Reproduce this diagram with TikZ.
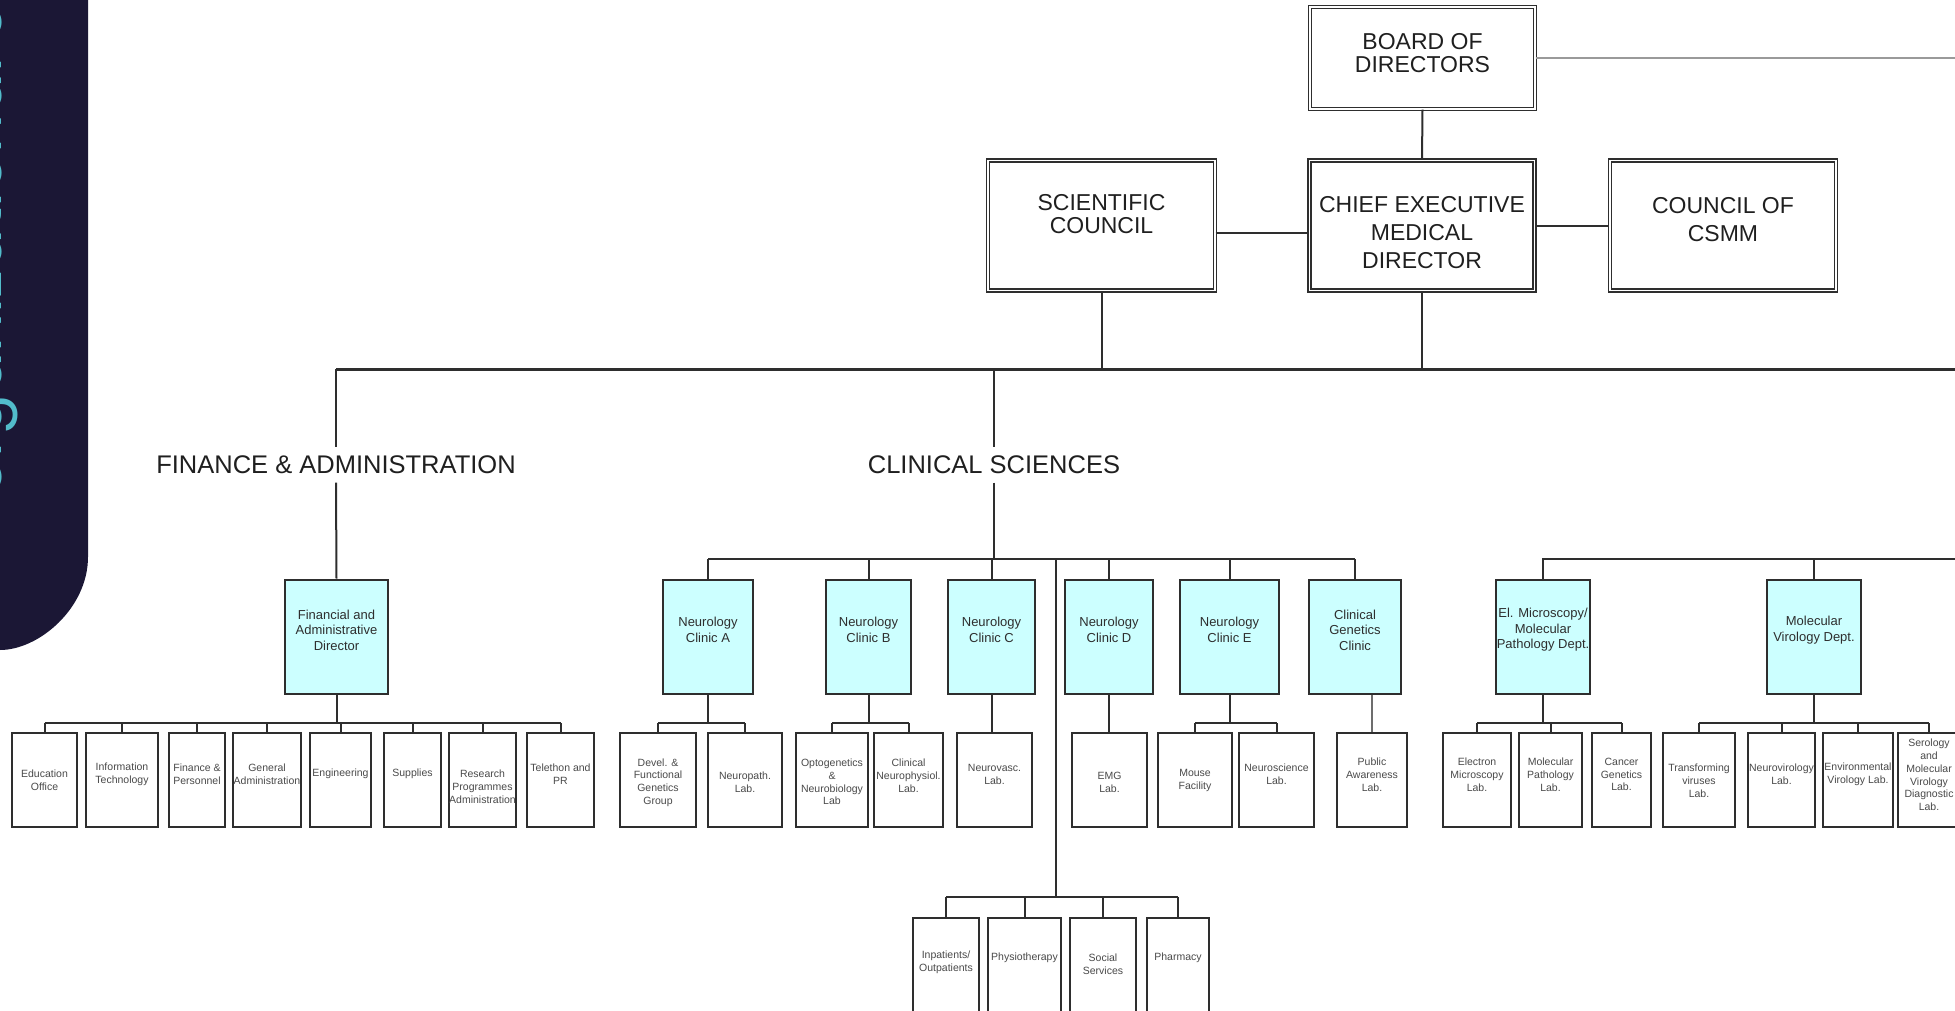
\documentclass[tikz,border=0pt]{standalone}
\usepackage{fontspec}
\setmainfont{Liberation Sans}
\newfontfamily\panelfont{Poppins}
\definecolor{panel}{HTML}{1B1735}
\definecolor{tealtxt}{HTML}{52BCCB}
\definecolor{ink}{HTML}{2E2E2E}
\definecolor{cyanfill}{HTML}{CCFFFF}
\definecolor{leafink}{HTML}{4A4A4A}
\definecolor{greyline}{HTML}{9A9A9A}
\newcommand\leafnode[5]{%
  \node[leafbox, minimum width=#3pt] (#1) at (#2,780) {};
  \node[leaftext] (#1t) at (#2,#4) {#5};}
\newcommand\cyannode[4]{%
  \node[cyanbox, minimum width=#3pt] (#1) at (#2,636.5) {};
  \node[cyantext] (#1t) at (#2,630) {#4};}
\newcommand\botnode[5]{%
  \node[leafbox, minimum width=#3pt, minimum height=112pt] (#1) at (#2,974) {};
  \node[leaftext] (#1t) at (#2,#4) {#5};}
\begin{document}
\begin{tikzpicture}[x=1pt,y=-1pt,
  topbox/.style={draw=ink, line width=1.3pt, double=white, double distance=1.8pt, inner sep=0pt, minimum height=130pt},
  toptext/.style={align=center, text=black!88, inner sep=0pt},
  cyanbox/.style={draw=ink, line width=2pt, fill=cyanfill, inner sep=0pt, minimum height=114pt},
  cyantext/.style={align=center, text=ink, inner sep=0pt, font=\fontsize{13}{15.5}\selectfont},
  leafbox/.style={draw=ink, line width=2pt, fill=white, inner sep=0pt, minimum height=94pt},
  leaftext/.style={align=center, text=leafink, inner sep=0pt, font=\fontsize{10.5}{12.8}\selectfont},
  conn/.style={draw=ink, line width=2pt},
  greyconn/.style={draw=greyline, line width=2.5pt},
  bigbar/.style={draw=ink, line width=3pt},
  sectlabel/.style={text=black!88, inner xsep=0pt, inner ysep=8.5pt, font=\fontsize{25.5}{27}\selectfont}]

\useasboundingbox (0,0) rectangle (1955,1011);
\clip (0,0) rectangle (1955,1011);

% side panel (its text runs off the left edge, as in the reference)
\fill[panel] (-5,-5) -- (88,-5) -- (88,557) .. controls (88,608) and (39,650) .. (0,650) -- (-5,650) -- cycle;
\node[rotate=90, anchor=base west, inner sep=0pt, text=tealtxt, font=\panelfont\fontsize{61}{61}\selectfont] (handle) at (1.5,497) {organizational charts};

% top level
\node[topbox, minimum width=225pt, minimum height=102pt] (board) at (1422.5,58) {};
\node[toptext, font=\fontsize{23}{23}\selectfont] (boardt) at (1422.5,53.5) {BOARD OF\\DIRECTORS};
\node[topbox, minimum width=225pt] (ceo) at (1422,225.5) {};
\node[toptext, font=\fontsize{23}{28}\selectfont] (ceot) at (1422,233) {CHIEF EXECUTIVE\\MEDICAL\\DIRECTOR};
\node[topbox, minimum width=227pt] (sci) at (1101.5,225.5) {};
\node[toptext, font=\fontsize{23}{23}\selectfont] (scit) at (1101.5,214) {SCIENTIFIC\\COUNCIL};
\node[topbox, minimum width=226pt] (csmm) at (1723,225.5) {};
\node[toptext, font=\fontsize{23}{28}\selectfont] (csmmt) at (1723,220) {COUNCIL OF\\CSMM};

\coordinate (boardR) at (1960,58);
\coordinate (hbarL) at (336,369);
\coordinate (hbarR) at (1960,369);

\draw[greyconn] (board.east) -- (boardR);
\draw[conn] (board.south) -- (ceo.north);
\draw[conn] ([yshift=-7.5pt]sci.east) -- ([yshift=-7.5pt]ceo.west);
\draw[conn] ([yshift=-0.5pt]ceo.east) -- ([yshift=-0.5pt]csmm.west);
\draw[conn] (sci.south) -- (sci.south |- hbarL);
\draw[conn] (ceo.south) -- (ceo.south |- hbarL);
\draw[bigbar] (hbarL) -- (hbarR);

% section labels
\node[sectlabel] (finlab) at (336,465) {FINANCE \& ADMINISTRATION};
\node[sectlabel] (clinlab) at (994,465) {CLINICAL SCIENCES};

% second level (cyan)
\cyannode{fin}{336.5}{103}{Financial and\\Administrative\\Director}
\cyannode{cA}{708}{90}{Neurology\\Clinic A}
\cyannode{cB}{868.5}{85}{Neurology\\Clinic B}
\cyannode{cC}{991.5}{87}{Neurology\\Clinic C}
\cyannode{cD}{1109}{88}{Neurology\\Clinic D}
\cyannode{cE}{1229.5}{99}{Neurology\\Clinic E}
\cyannode{cG}{1355}{92}{Clinical\\Genetics\\Clinic}
\cyannode{em}{1543}{94}{El. Microscopy/\\Molecular\\Pathology Dept.}
\cyannode{mv}{1814}{94}{Molecular\\Virology Dept.}

\draw[conn] (finlab.north |- hbarL) -- (finlab.north);
\draw[conn] (finlab.south) -- (fin.north);
\draw[conn] (clinlab.north |- hbarL) -- (clinlab.north);

\coordinate (cbar) at (0,559);
\draw[conn] (clinlab.south) -- (clinlab.south |- cbar);
\draw[conn] (cA.north |- cbar) -- (cG.north |- cbar);
\foreach \n in {cA,cB,cC,cD,cE,cG} \draw[conn] (\n.north) -- (\n.north |- cbar);
\coordinate (sbarR) at (1960,559);
\draw[conn] (em.north) -- (em.north |- sbarR) -- (sbarR);
\draw[conn] (mv.north) -- (mv.north |- sbarR);

% finance leaves
\leafnode{l1}{44.5}{65}{780}{Education\\Office}
\leafnode{l2}{122}{72}{774.5}{Information\\Technology}
\leafnode{l3}{197}{56}{774}{Finance \&\\Personnel}
\leafnode{l4}{267}{68}{774}{General\\Administration}
\leafnode{l5}{340.5}{61}{774}{Engineering}
\leafnode{l6}{412.5}{57}{774}{Supplies}
\leafnode{l7}{482.5}{67}{787}{Research\\Programmes\\Administration}
\leafnode{l8}{560.5}{67}{774}{Telethon and\\PR}
\coordinate (gbar) at (0,723);
\draw[conn] (fin.south) -- (fin.south |- gbar);
\draw[conn] (l1.north |- gbar) -- (l8.north |- gbar);
\foreach \n in {l1,l2,l3,l4,l5,l6,l7,l8} \draw[conn] (\n.north) -- (\n.north |- gbar);

% clinic leaves
\leafnode{a1}{658}{76}{782.5}{Devel. \&\\Functional\\Genetics\\Group}
\leafnode{a2}{745}{74}{782.5}{Neuropath.\\Lab.}
\leafnode{b1}{832}{72}{782}{Optogenetics\\\&\\Neurobiology\\Lab}
\leafnode{b2}{908.5}{69}{776}{Clinical\\Neurophysiol.\\Lab.}
\leafnode{c1}{994.5}{75}{774.5}{Neurovasc.\\Lab.}
\leafnode{d1}{1109.5}{75}{782.5}{EMG\\Lab.}
\leafnode{e1}{1195}{74}{780.5}{Mouse\\Facility}
\leafnode{e2}{1276.5}{75}{774.5}{Neuroscience\\Lab.}
\leafnode{g1}{1372}{70}{774.5}{Public\\Awareness\\Lab.}

\draw[conn] (cA.south) -- (cA.south |- gbar);
\draw[conn] (a1.north |- gbar) -- (a2.north |- gbar);
\foreach \n in {a1,a2} \draw[conn] (\n.north) -- (\n.north |- gbar);
\draw[conn] (cB.south) -- (cB.south |- gbar);
\draw[conn] (b1.north |- gbar) -- (b2.north |- gbar);
\foreach \n in {b1,b2} \draw[conn] (\n.north) -- (\n.north |- gbar);
\draw[conn] (cC.south) -- (cC.south |- c1.north);
\draw[conn] (cD.south) -- (cD.south |- d1.north);
\draw[conn] (cE.south) -- (cE.south |- gbar);
\draw[conn] (e1.north |- gbar) -- (e2.north |- gbar);
\foreach \n in {e1,e2} \draw[conn] (\n.north) -- (\n.north |- gbar);
\draw[conn, draw=ink!70] (g1.north) -- (g1.north |- cG.south);

% science leaves
\leafnode{m1}{1477}{68}{774.5}{Electron\\Microscopy\\Lab.}
\leafnode{m2}{1550.5}{63}{774.5}{Molecular\\Pathology\\Lab.}
\leafnode{m3}{1621.5}{59}{774.5}{Cancer\\Genetics\\Lab.}
\leafnode{v1}{1699}{72}{781}{Transforming\\viruses\\Lab.}
\leafnode{v2}{1781.5}{67}{774.5}{Neurovirology\\Lab.}
\leafnode{v3}{1858}{70}{774.5}{Environmental\\Virology Lab.}
\leafnode{v4}{1929}{62}{775}{Serology\\and\\Molecular\\Virology\\Diagnostic\\Lab.}
\draw[conn] (em.south) -- (em.south |- gbar);
\draw[conn] (m1.north |- gbar) -- (m3.north |- gbar);
\foreach \n in {m1,m2,m3} \draw[conn] (\n.north) -- (\n.north |- gbar);
\draw[conn] (mv.south) -- (mv.south |- gbar);
\draw[conn] (v1.north |- gbar) -- (v4.north |- gbar);
\foreach \n in {v1,v2,v3,v4} \draw[conn] (\n.north) -- (\n.north |- gbar);

% bottom services
\botnode{s1}{946}{66}{962}{Inpatients/\\Outpatients}
\botnode{s2}{1024.5}{73}{958}{Physiotherapy}
\botnode{s3}{1103}{66}{964.5}{Social\\Services}
\botnode{s4}{1178}{62}{958}{Pharmacy}
\coordinate (longtop) at (1056,559);
\coordinate (bbar) at (1056,897);
\draw[conn] (longtop) -- (bbar);
\draw[conn] (s1.north |- bbar) -- (s4.north |- bbar);
\foreach \n in {s1,s2,s3,s4} \draw[conn] (\n.north) -- (\n.north |- bbar);
\end{tikzpicture}
\end{document}
